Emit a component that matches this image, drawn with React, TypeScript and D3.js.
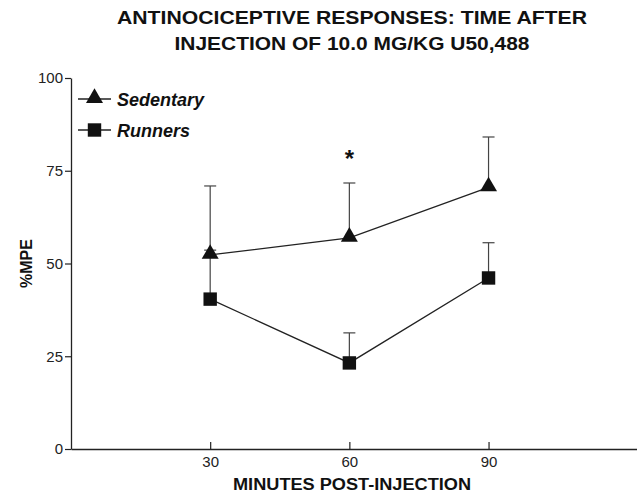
import { useEffect, useRef } from 'react';
import * as d3 from 'd3';

const minutes = [30, 60, 90];
const sedentary = [52.3, 56.9, 70.5];
const sedentaryErr = [18.6, 14.8, 13.6];
const runners = [40.4, 23.2, 46.1];
const runnersErr = [13.2, 8.1, 9.5];
const yTicks = [0, 25, 50, 75, 100];
const xTicks = [30, 60, 90];
const seriesNames = ['Sedentary', 'Runners'];
const titleLines = ['ANTINOCICEPTIVE RESPONSES: TIME AFTER', 'INJECTION OF 10.0 MG/KG U50,488'];

export default function App() {
  const svgRef = useRef<SVGSVGElement>(null);

  useEffect(() => {
    const width = 637;
    const height = 495;
    const font = '"Liberation Sans", Arial, sans-serif';

    const svg = d3.select(svgRef.current);
    svg.selectAll('*').remove();
    svg.attr('width', width).attr('height', height).style('background', '#fff');

    const x = d3.scaleLinear().domain([0, 122]).range([71, 637]);
    const y = d3.scaleLinear().domain([0, 100]).range([449, 78]);

    // titre
    const title = svg.append('text')
      .attr('text-anchor', 'middle')
      .style('font-family', font)
      .style('font-size', '18.5px')
      .style('font-weight', 'bold')
      .attr('fill', '#111');
    const titleWidths = [470, 355];
    titleLines.forEach((t, i) => {
      title.append('tspan')
        .attr('x', 352).attr('y', 24 + i * 26)
        .attr('textLength', titleWidths[i])
        .attr('lengthAdjust', 'spacingAndGlyphs')
        .text(t);
    });

    // axe Y
    const yAxis = svg.append('g')
      .attr('transform', `translate(${x(0)},0)`)
      .call(d3.axisLeft(y).tickValues(yTicks).tickSize(6).tickSizeOuter(0));
    yAxis.select('.domain').attr('stroke', '#222').attr('stroke-width', 1.3);
    yAxis.selectAll('.tick line').attr('stroke', '#222').attr('stroke-width', 1.2);
    yAxis.selectAll('.tick text')
      .attr('x', -8)
      .style('font-family', font)
      .style('font-size', '15px')
      .attr('fill', '#222');

    // axe X
    const xAxis = svg.append('g')
      .attr('transform', `translate(0,${y(0)})`)
      .call(d3.axisBottom(x).tickValues(xTicks).tickSize(0).tickSizeOuter(0));
    xAxis.select('.domain').attr('stroke', '#222').attr('stroke-width', 1.3);
    xAxis.selectAll('.tick line').remove();
    xAxis.selectAll('.tick').append('line')
      .attr('y1', 0).attr('y2', -7)
      .attr('stroke', '#222').attr('stroke-width', 1.2);
    xAxis.selectAll('.tick text')
      .attr('y', 7)
      .style('font-family', font)
      .style('font-size', '15px')
      .attr('fill', '#222');

    svg.append('text')
      .attr('x', 352).attr('y', 490)
      .attr('text-anchor', 'middle')
      .attr('textLength', 238)
      .attr('lengthAdjust', 'spacingAndGlyphs')
      .style('font-family', font)
      .style('font-size', '16px')
      .style('font-weight', 'bold')
      .attr('fill', '#111')
      .text('MINUTES POST-INJECTION');

    svg.append('text')
      .attr('transform', `translate(32,${y(50)}) rotate(-90)`)
      .attr('text-anchor', 'middle')
      .style('font-family', font)
      .style('font-size', '16px')
      .style('font-weight', 'bold')
      .attr('fill', '#111')
      .text('%MPE');

    const tri = d3.symbol().type(d3.symbolTriangle).size(125);
    const sq = d3.symbol().type(d3.symbolSquare).size(180);

    // barres d'erreur (vers le haut)
    const drawErr = (vals: number[], errs: number[]) => {
      vals.forEach((v, i) => {
        const cx = x(minutes[i]);
        svg.append('line')
          .attr('x1', cx).attr('x2', cx)
          .attr('y1', y(v)).attr('y2', y(v + errs[i]))
          .attr('stroke', '#444').attr('stroke-width', 1.2);
        svg.append('line')
          .attr('x1', cx - 6).attr('x2', cx + 6)
          .attr('y1', y(v + errs[i])).attr('y2', y(v + errs[i]))
          .attr('stroke', '#444').attr('stroke-width', 1.2);
      });
    };
    drawErr(runners, runnersErr);
    drawErr(sedentary, sedentaryErr);

    const line = d3.line<number>()
      .x((_, i) => x(minutes[i]))
      .y(d => y(d));

    svg.append('path').datum(runners)
      .attr('d', line).attr('fill', 'none')
      .attr('stroke', '#222').attr('stroke-width', 1.3);
    svg.append('path').datum(sedentary)
      .attr('d', line).attr('fill', 'none')
      .attr('stroke', '#222').attr('stroke-width', 1.3);

    svg.selectAll('.sq').data(runners).join('path')
      .attr('class', 'sq')
      .attr('transform', (d, i) => `translate(${x(minutes[i])},${y(d)})`)
      .attr('d', sq())
      .attr('fill', '#111');
    svg.selectAll('.tri').data(sedentary).join('path')
      .attr('class', 'tri')
      .attr('transform', (d, i) => `translate(${x(minutes[i])},${y(d) - 1})`)
      .attr('d', tri())
      .attr('fill', '#111');

    // astérisque
    svg.append('text')
      .attr('x', x(60)).attr('y', y(sedentary[1] + sedentaryErr[1]) - 16)
      .attr('text-anchor', 'middle')
      .style('font-family', font)
      .style('font-size', '24px')
      .style('font-weight', 'bold')
      .attr('fill', '#111')
      .text('*');

    // légende
    const legend = svg.append('g').attr('transform', 'translate(78,99)');
    seriesNames.forEach((name, i) => {
      const g = legend.append('g').attr('transform', `translate(0,${i * 31})`);
      g.append('line').attr('x1', 0).attr('x2', 33).attr('y1', 0).attr('y2', 0)
        .attr('stroke', '#222').attr('stroke-width', 1.3);
      g.append('path')
        .attr('transform', `translate(16.5,${i === 0 ? -1 : 0})`)
        .attr('d', i === 0 ? tri() : sq())
        .attr('fill', '#111');
      g.append('text')
        .attr('x', 39).attr('y', 6.5)
        .style('font-family', font)
        .style('font-size', '18px')
        .style('font-weight', 'bold')
        .style('font-style', 'italic')
        .attr('fill', '#111')
        .text(name);
    });
  }, []);

  return (
    <svg ref={svgRef} style={{ position: 'fixed', top: 0, left: 0, display: 'block' }}></svg>
  );
}
